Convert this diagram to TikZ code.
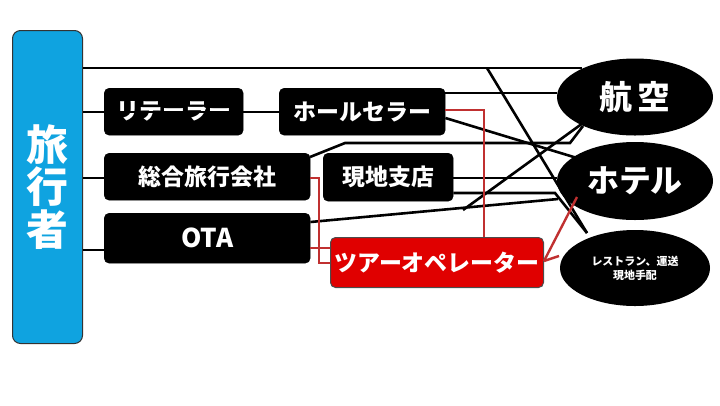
\documentclass[tikz,border=0pt]{standalone}
\usepackage{fontspec}
\newfontfamily\jp{Noto Sans CJK JP Black}
\usetikzlibrary{shapes.geometric}
\definecolor{tblue}{HTML}{0FA3E0}
\definecolor{tred}{HTML}{E00000}
\definecolor{lred}{HTML}{C03030}
\tikzset{
 box/.style={draw=black,fill=black,rounded corners=5bp,text=white,font=\jp\fontsize{23}{25}\selectfont,inner sep=0,anchor=north west},
 ell/.style={ellipse,fill=black,text=white,inner sep=0,font=\jp},
 ln/.style={line width=2.6bp,black},
 rl/.style={line width=2.4bp,lred},
}
\begin{document}
\begin{tikzpicture}[x=1bp,y=-1bp]
\useasboundingbox (0,0) rectangle (720,405);
\node[box,draw=black!80,fill=tblue,minimum width=70bp,minimum height=313bp,rounded corners=8bp,line width=1bp,font=\jp\fontsize{42}{48}\selectfont] (trav) at (12,30) {\shortstack{旅\\行\\者}};
\node[box,minimum width=139bp,minimum height=47bp] (ret) at (104,88) {リテーラー};
\node[box,minimum width=166bp,minimum height=47bp] (whl) at (279,88) {ホールセラー};
\node[box,minimum width=206bp,minimum height=47bp] (sog) at (104,153) {総合旅行会社};
\node[box,minimum width=206bp,minimum height=50bp,font=\jp\fontsize{26}{28}\selectfont] (ota) at (104,213) {OTA};
\node[box,minimum width=130bp,minimum height=48bp] (loc) at (323,153) {現地支店};
\node[box,draw=black!70,fill=tred,line width=1bp,minimum width=213bp,minimum height=50bp] (top) at (330,237) {ツアーオペレーター};
\node[ell,minimum width=156bp,minimum height=77bp,font=\jp\fontsize{33}{35}\selectfont] (air) at (635,97) {航\,空};
\node[ell,minimum width=156bp,minimum height=78bp,font=\jp\fontsize{32}{34}\selectfont] (hot) at (635,181) {ホテル};
\node[ell,minimum width=150bp,minimum height=76bp,font=\jp\fontsize{11}{14}\selectfont,align=center] (rst) at (635,268) {レストラン、運送\\現地手配};
\coordinate (d1) at (487,68);
\coordinate (k1) at (345,143);
\coordinate (k2) at (570,143);
\coordinate (k3) at (555,193);
\coordinate (k4) at (463,210);
% black
\draw[ln] (trav.east|-0,68) -- (air.west|-0,68) coordinate (t1) -- (582,68);
\draw[ln] (d1) -- (587,233);
\draw[ln] (trav.east|-0,112) -- (ret.east|-0,112) -- (whl.west|-0,112);
\draw[ln] (trav.east|-0,178) -- (sog.west|-0,178);
\draw[ln] (trav.east|-0,250) -- (ota.west|-0,250);
\draw[ln] (whl.east|-0,93) -- (air.west|-0,93);
\draw[ln] (whl.east|-0,118) -- (577,158);
\draw[ln] (310,157) -- (k1) -- (k2) -- (583,126);
\draw[ln] (loc.east|-0,178) -- (hot.west|-0,178);
\draw[ln] (loc.east|-0,193) -- (k3) -- (587,233);
\draw[ln] (ota.east|-0,222) -- (558,199);
\draw[ln] (k4) -- (583,123);
% red
\draw[rl] (sog.east|-0,178) -- (319,178) -- (319,263) -- (top.west|-0,263);
\draw[rl] (ota.east|-0,248) -- (top.west|-0,248);
\draw[rl] (whl.east|-0,110) -- (484,110) -- (top.north-|484,0);
\draw[rl] (top.east|-0,261) -- (559,256);
\draw[rl] (top.east|-0,261) -- (577,197);
\end{tikzpicture}
\end{document}
